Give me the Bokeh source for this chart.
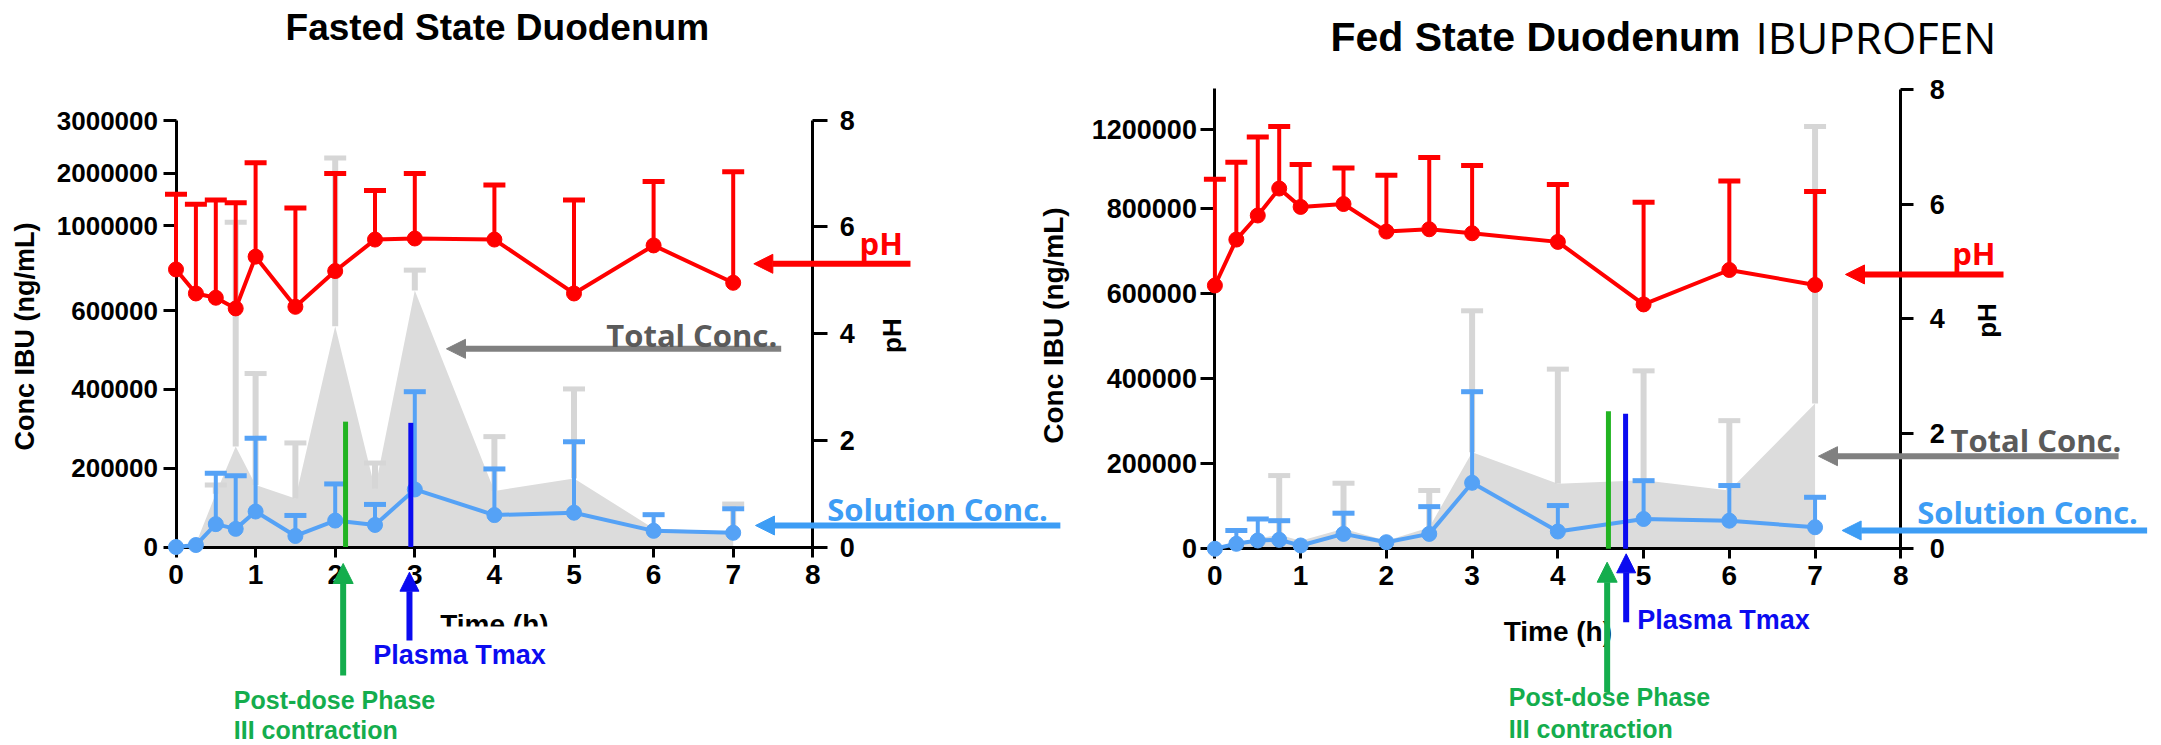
import numpy as np
from bokeh.plotting import figure
from bokeh.models import (Range1d, LinearAxis, FixedTicker, Label, Arrow,
                          NormalHead, BoxAnnotation)
from bokeh.embed import file_html
from bokeh.resources import INLINE

# ---------------- data ----------------
TIME = [0, 0.25, 0.5, 0.75, 1, 1.5, 2, 2.5, 3, 4, 5, 6, 7]
NAN = float("nan")

# Fasted state duodenum
FA_PH = [5.20, 4.75, 4.67, 4.47, 5.44, 4.50, 5.17, 5.76, 5.78, 5.76, 4.75, 5.65, 4.95]
FA_PH_SD = [6.61, 6.42, 6.50, 6.45, 7.20, 6.35, 7.00, 6.68, 7.00, 6.78, 6.50, 6.85, 7.03]
FA_SOL = [0, 5000, 58000, 46000, 90000, 28000, 67000, 56000, 146000, 81000, 87000, 41000, 36000]
FA_SOL_SD = [NAN, NAN, 187000, 181000, 276000, 80000, 160000, 108000, 394000, 198000, 267000, 82000, 97000]
FA_TOT = [0, 8000, 135000, 255000, 157000, 123000, 560000, 148000, 694000, 142000, 174000, 47000, 38000]
FA_TOT_SD = [NAN, NAN, 157000, 1060000, 440000, 264000, 2290000, 213000, 790000, 280000, 401000, NAN, 109000]
FA_EVENT_T = [2.13, 2.95]          # Phase III contraction, plasma Tmax
FA_EVENT_TOP = [318000, 315000]

# Fed state duodenum
FE_PH = [4.58, 5.38, 5.80, 6.27, 5.95, 6.00, 5.52, 5.56, 5.49, 5.34, 4.25, 4.85, 4.59]
FE_PH_SD = [6.43, 6.73, 7.17, 7.35, 6.69, 6.63, 6.50, 6.81, 6.67, 6.34, 6.03, 6.40, 6.22]
FE_SOL = [0, 11700, 19500, 21000, 7800, 35000, 15500, 35000, 155000, 40600, 70000, 66000, 50700]
FE_SOL_SD = [NAN, 43000, 70000, 66000, NAN, 83600, NAN, 99000, 369000, 101600, 160000, 148600, 121000]
FE_TOT = [0, 15000, 24000, 33000, 19000, 47000, 19000, 50000, 227000, 153000, 161000, 137000, 341000]
FE_TOT_SD = [NAN, NAN, NAN, 172000, NAN, 154000, NAN, 137000, 559000, 422000, 418000, 301000, 1217000]
FE_EVENT_T = [4.59, 4.79]
FE_EVENT_TOP = [323000, 317000]

# axes
FA_CONC_TICKS = [0, 200000, 400000, 600000, 1000000, 2000000, 3000000]
FE_CONC_TICKS = [0, 200000, 400000, 600000, 800000, 1200000]
PH_TICKS = [0, 2, 4, 6, 8]
TIME_TICKS = [0, 1, 2, 3, 4, 5, 6, 7, 8]

# broken (segmented) concentration axes: value -> axis units
FA_BRK_V = [0, 600000, 1000000, 2000000, 3000000, 4000000]
FA_BRK_U = [0, 236.5, 321.5, 373.8, 426.5, 479.2]
FE_BRK_V = [0, 800000, 1200000, 1600000]
FE_BRK_U = [0, 340.6, 419.0, 497.4]


def u_fa(v):
    return np.interp(np.asarray(v, float), FA_BRK_V, FA_BRK_U)


def u_fe(v):
    return np.interp(np.asarray(v, float), FE_BRK_V, FE_BRK_U)


# ---------------- layout ----------------
W, H, OFF = 2161, 745, 0


def xr(va, Xa, vb, Xb):
    s = (Xb - Xa) / (vb - va)
    xa = Xa - OFF
    return Range1d(start=va - xa / s, end=va + (W - xa) / s)


def yr(va, Ya, vb, Yb):
    s = (Ya - Yb) / (vb - va)
    ya = Ya - OFF
    return Range1d(start=va - (H - ya) / s, end=va + ya / s)


RED = "#ff0000"
BLUE = "#55a2f6"
BLUE_TXT = "#3d9df5"
GREY_AREA = "#dcdcdc"
GREY_BAR = "#d6d6d6"
GREY_TXT = "#5a5a5a"
GREY_ARROW = "#808080"
GREEN_LINE = "#22b422"
GREEN = "#14ad4d"
DBLUE = "#0b0bf0"

p = figure(width=W, height=H, x_range=xr(0, 175.5, 8, 812.3), y_range=yr(0, 546.5, 8, 119.5),
           output_backend="svg", toolbar_location=None, x_axis_type=None, y_axis_type=None,
           min_border=0, title_location=None)
p.outline_line_color = None
p.background_fill_color = "white"
p.border_fill_color = "white"
p.extra_x_ranges = {"fe": xr(0, 1214.4, 8, 1900.3)}
p.extra_y_ranges = {"cfa": yr(0, 546.5, 100, 446.5),
                    "phfe": yr(0, 547.7, 8, 88.8),
                    "cfe": yr(0, 548.3, 100, 448.3)}


def style_axis(ax, fs, standoff, tick_out):
    ax.axis_line_width = 3
    ax.axis_line_color = "black"
    ax.major_tick_line_width = 3
    ax.major_tick_line_color = "black"
    ax.major_tick_out = tick_out
    ax.major_tick_in = 0
    ax.minor_tick_line_color = None
    ax.major_label_text_font = "Liberation Sans"
    ax.major_label_text_font_style = "bold"
    ax.major_label_text_font_size = fs
    ax.major_label_text_color = "black"
    ax.major_label_standoff = standoff
    ax.level = "underlay"


def conc_axis(ufun, ticks, xname, yname, top):
    tu = [float(u) for u in ufun(ticks)]
    ax = LinearAxis(x_range_name=xname, y_range_name=yname, fixed_location=0, bounds=(0, top),
                    ticker=FixedTicker(ticks=tu, minor_ticks=[]),
                    major_label_overrides={u: str(t) for u, t in zip(tu, ticks)})
    return ax


a = conc_axis(u_fa, FA_CONC_TICKS, "default", "cfa", 426.5)
style_axis(a, "26px", 5, 13)
p.add_layout(a, "left")
a = conc_axis(u_fe, FE_CONC_TICKS, "fe", "cfe", 460.3)
style_axis(a, "27px", 4, 14)
p.add_layout(a, "left")

a = LinearAxis(fixed_location=8, bounds=(0, 8), ticker=FixedTicker(ticks=PH_TICKS, minor_ticks=[]))
style_axis(a, "27px", 12, 15)
p.add_layout(a, "right")
a = LinearAxis(x_range_name="fe", y_range_name="phfe", fixed_location=8, bounds=(0, 8),
               ticker=FixedTicker(ticks=PH_TICKS, minor_ticks=[]))
style_axis(a, "27px", 16, 13)
p.add_layout(a, "right")

a = LinearAxis(fixed_location=0, bounds=(0, 8), ticker=FixedTicker(ticks=TIME_TICKS, minor_ticks=[]))
style_axis(a, "28px", 8, 10)
p.add_layout(a, "below")
a = LinearAxis(x_range_name="fe", y_range_name="phfe", fixed_location=0, bounds=(0, 8),
               ticker=FixedTicker(ticks=TIME_TICKS, minor_ticks=[]))
style_axis(a, "28px", 8, 10)
p.add_layout(a, "below")


def errbars(t, mean, top, color, xname, yname, stem_w, cap_w):
    p.segment(x0=t, y0=mean, x1=t, y1=top, line_color=color, line_width=stem_w,
              x_range_name=xname, y_range_name=yname)
    p.scatter(x=t, y=top, marker="dash", size=22, line_color=color, line_width=cap_w,
              x_range_name=xname, y_range_name=yname)


def chart(ufun, ph, ph_sd, sol, sol_sd, tot, tot_sd, ev_t, ev_top, xname, phname, cname):
    t = np.asarray(TIME, float)
    p.varea(x=t, y1=np.zeros_like(t), y2=ufun(tot), fill_color=GREY_AREA,
            x_range_name=xname, y_range_name=cname, level="image")
    errbars(t, ufun(tot), ufun(tot_sd), GREY_BAR, xname, cname, 6, 5)
    # solution conc
    errbars(t, ufun(sol), ufun(sol_sd), BLUE, xname, cname, 4, 5)
    p.line(t, ufun(sol), line_color=BLUE, line_width=4, x_range_name=xname, y_range_name=cname)
    p.scatter(t, ufun(sol), size=15, fill_color=BLUE, line_color=BLUE,
              x_range_name=xname, y_range_name=cname)
    # pH
    errbars(t, np.asarray(ph), np.asarray(ph_sd), RED, xname, phname, 4, 5)
    p.line(t, ph, line_color=RED, line_width=4, x_range_name=xname, y_range_name=phname)
    p.scatter(t, ph, size=15, fill_color=RED, line_color=RED,
              x_range_name=xname, y_range_name=phname)
    # event markers
    p.segment(x0=ev_t, y0=[0, 0], x1=ev_t, y1=ufun(ev_top), line_color=[GREEN_LINE, DBLUE],
              line_width=5, x_range_name=xname, y_range_name=cname)


chart(u_fa, FA_PH, FA_PH_SD, FA_SOL, FA_SOL_SD, FA_TOT, FA_TOT_SD, FA_EVENT_T, FA_EVENT_TOP,
      "default", "default", "cfa")
chart(u_fe, FE_PH, FE_PH_SD, FE_SOL, FE_SOL_SD, FE_TOT, FE_TOT_SD, FE_EVENT_T, FE_EVENT_TOP,
      "fe", "phfe", "cfe")


def lab(text, x, y, xname, yname, size, color="black", font="Liberation Sans", bold=True,
        align="left", angle=0.0):
    p.add_layout(Label(text=text, x=x, y=y, x_range_name=xname, y_range_name=yname,
                       text_font_size=size, text_color=color, text_font=font,
                       text_font_style="bold" if bold else "normal",
                       text_align=align, text_baseline="middle", angle=angle))


def arrow(x0, y0, x1, y1, xname, yname, color, width, head):
    p.add_layout(Arrow(x_start=x0, y_start=y0, x_end=x1, y_end=y1,
                       x_range_name=xname, y_range_name=yname,
                       line_color=color, line_width=width,
                       end=NormalHead(size=head, fill_color=color, line_color=color, line_width=1)))


HALF_PI = np.pi / 2
OS = "Open Sans"

# ---- Fasted annotations (x: hours, y: pH) ----
D = "default"
lab("Fasted  State Duodenum", 1.376, 9.737, D, D, "37px")
lab("Conc IBU (ng/mL)", -1.891, 3.944, D, D, "27px", align="center", angle=HALF_PI)
lab("pH", 9.0, 3.96, D, D, "26px", align="center", angle=HALF_PI)
lab("Time (h)", 4.0, -1.448, D, D, "28px", align="center")
p.add_layout(BoxAnnotation(left=3.2, right=4.83, top=-1.49, bottom=-1.79, fill_color="white",
                           fill_alpha=1, line_alpha=0))
lab("Plasma Tmax", 2.477, -2.021, D, D, "27px", color=DBLUE)
lab("Post-dose Phase", 0.726, -2.871, D, D, "25px", color=GREEN)
lab("III contraction", 0.726, -3.433, D, D, "25px", color=GREEN)
arrow(2.10, -2.407, 2.10, -0.309, D, D, GREEN, 6, 20)
arrow(2.933, -1.752, 2.933, -0.472, D, D, DBLUE, 6, 19)
arrow(9.227, 5.306, 7.259, 5.306, D, D, RED, 6, 19)
lab("pH", 8.587, 5.696, D, D, "31px", color=RED, font=OS)
arrow(7.603, 3.713, 3.398, 3.713, D, D, GREY_ARROW, 6, 19)
lab("Total Conc.", 7.553, 3.966, D, D, "31px", color=GREY_TXT, font=OS, align="right")
arrow(11.11, 0.403, 7.28, 0.403, D, D, BLUE_TXT, 6, 19)
lab("Solution Conc.", 8.181, 0.719, D, D, "31px", color=BLUE_TXT, font=OS)

# ---- Fed annotations ----
X2, Y2 = "fe", "phfe"
lab("Fed  State Duodenum", 1.348, 8.907, X2, Y2, "41px")
lab("IBUPROFEN", 6.305, 8.907, X2, Y2, "44px", font=OS, bold=False)
lab("Conc IBU (ng/mL)", -1.882, 3.882, X2, Y2, "28px", align="center", angle=HALF_PI)
lab("pH", 9.007, 3.97, X2, Y2, "26px", align="center", angle=HALF_PI)
lab("Time (h)", 4.0, -1.449, X2, Y2, "28px", align="center")
lab("Plasma Tmax", 4.925, -1.25, X2, Y2, "27px", color=DBLUE)
lab("Post-dose Phase", 3.428, -2.599, X2, Y2, "25px", color=GREEN)
lab("III contraction", 3.428, -3.151, X2, Y2, "25px", color=GREEN)
arrow(4.575, -2.51, 4.575, -0.244, X2, Y2, GREEN, 6, 20)
arrow(4.797, -1.29, 4.797, -0.098, X2, Y2, DBLUE, 6, 19)
arrow(9.198, 4.772, 7.355, 4.772, X2, Y2, RED, 6, 19)
lab("pH", 8.599, 5.141, X2, Y2, "31px", color=RED, font=OS)
arrow(10.54, 1.604, 7.04, 1.604, X2, Y2, GREY_ARROW, 6, 19)
lab("Total Conc.", 8.579, 1.881, X2, Y2, "31px", color=GREY_TXT, font=OS)
arrow(10.873, 0.309, 7.316, 0.309, X2, Y2, BLUE_TXT, 6, 19)
lab("Solution Conc.", 8.191, 0.631, X2, Y2, "31px", color=BLUE_TXT, font=OS)

open("out.html", "w").write(file_html(p, INLINE))
